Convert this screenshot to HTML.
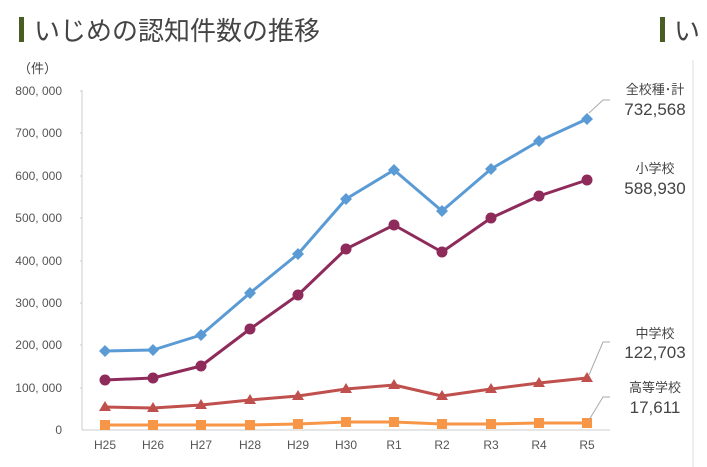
<!DOCTYPE html><html><head><meta charset="utf-8"><style>body{margin:0;background:#fff;width:707px;height:467px;overflow:hidden}svg{display:block}text{font-family:"Liberation Sans","Noto Sans CJK JP",sans-serif}</style></head><body>
<svg width="707" height="467" viewBox="0 0 707 467">
<rect x="19" y="17" width="5" height="25" fill="#4a5e23"/>
<text x="34" y="40" font-size="26" fill="#444">いじめの認知件数の推移</text>
<rect x="660" y="17" width="5" height="25" fill="#4a5e23"/>
<text x="674" y="40" font-size="26" fill="#444">い</text>
<line x1="693" y1="60" x2="693" y2="467" stroke="#ddd"/>
<text x="18" y="73" font-size="13" fill="#444">（件）</text>
<g font-size="12" fill="#555" text-anchor="end">
<text x="62" y="95">800, 000</text><text x="62" y="137">700, 000</text><text x="62" y="180">600, 000</text><text x="62" y="222">500, 000</text><text x="62" y="265">400, 000</text><text x="62" y="307">300, 000</text><text x="62" y="349">200, 000</text><text x="62" y="392">100, 000</text><text x="62" y="434">0</text></g>
<g stroke="#ccc"><line x1="82" y1="90" x2="82" y2="430"/><line x1="82" y1="430" x2="610" y2="430"/>
<line x1="80" y1="91" x2="82" y2="91"/><line x1="80" y1="133" x2="82" y2="133"/><line x1="80" y1="176" x2="82" y2="176"/><line x1="80" y1="218" x2="82" y2="218"/><line x1="80" y1="261" x2="82" y2="261"/><line x1="80" y1="303" x2="82" y2="303"/><line x1="80" y1="345" x2="82" y2="345"/><line x1="80" y1="388" x2="82" y2="388"/></g>
<g font-size="12" fill="#555" text-anchor="middle">
<text x="105" y="449">H25</text><text x="153" y="449">H26</text><text x="201" y="449">H27</text><text x="250" y="449">H28</text><text x="298" y="449">H29</text><text x="346" y="449">H30</text><text x="394" y="449">R1</text><text x="442" y="449">R2</text><text x="491" y="449">R3</text><text x="539" y="449">R4</text><text x="587" y="449">R5</text></g>
<g fill="none" stroke-width="3" stroke-linejoin="round">
<polyline stroke="#5b9bd5" points="105,351 153,350 201,335 250,293 298,254 346,199 394,170 442,211 491,169 539,141 587,119"/>
<polyline stroke="#8e2b5b" points="105,380 153,378 201,366 250,329 298,295 346,249 394,225 442,252 491,218 539,196 587,180"/>
<polyline stroke="#c0504d" points="105,407 153,408 201,405 250,400 298,396 346,389 394,385 442,396 491,389 539,383 587,378"/>
<polyline stroke="#f79646" points="105,425 153,425 201,425 250,425 298,424 346,422 394,422 442,424 491,424 539,423 587,423"/></g>
<g fill="#5b9bd5">
<path d="M105,345l6,6-6,6-6-6z M153,344l6,6-6,6-6-6z M201,329l6,6-6,6-6-6z M250,287l6,6-6,6-6-6z M298,248l6,6-6,6-6-6z M346,193l6,6-6,6-6-6z M394,164l6,6-6,6-6-6z M442,205l6,6-6,6-6-6z M491,163l6,6-6,6-6-6z M539,135l6,6-6,6-6-6z M587,113l6,6-6,6-6-6z"/></g>
<g fill="#8e2b5b"><circle cx="105" cy="380" r="5.5"/><circle cx="153" cy="378" r="5.5"/><circle cx="201" cy="366" r="5.5"/><circle cx="250" cy="329" r="5.5"/><circle cx="298" cy="295" r="5.5"/><circle cx="346" cy="249" r="5.5"/><circle cx="394" cy="225" r="5.5"/><circle cx="442" cy="252" r="5.5"/><circle cx="491" cy="218" r="5.5"/><circle cx="539" cy="196" r="5.5"/><circle cx="587" cy="180" r="5.5"/></g>
<g fill="#c0504d"><path d="M105,401l6,10h-12z M153,402l6,10h-12z M201,399l6,10h-12z M250,394l6,10h-12z M298,390l6,10h-12z M346,383l6,10h-12z M394,379l6,10h-12z M442,390l6,10h-12z M491,383l6,10h-12z M539,377l6,10h-12z M587,372l6,10h-12z"/></g>
<g fill="#f79646"><rect x="100" y="420" width="10" height="10"/><rect x="148" y="420" width="10" height="10"/><rect x="196" y="420" width="10" height="10"/><rect x="245" y="420" width="10" height="10"/><rect x="293" y="419" width="10" height="10"/><rect x="341" y="417" width="10" height="10"/><rect x="389" y="417" width="10" height="10"/><rect x="437" y="419" width="10" height="10"/><rect x="486" y="419" width="10" height="10"/><rect x="534" y="418" width="10" height="10"/><rect x="582" y="418" width="10" height="10"/></g>
<g stroke="#aaa" fill="none"><polyline points="589,113 603,100 610,100"/><polyline points="589,375 603,342 610,342"/><polyline points="589,420 603,397 610,397"/><line x1="589" y1="180" x2="610" y2="180" stroke="none"/></g>
<g fill="#444" text-anchor="middle"><text x="655" y="94" font-size="13">全校種･計</text><text x="655" y="115" font-size="17">732,568</text>
<text x="655" y="173" font-size="13">小学校</text><text x="655" y="194" font-size="17">588,930</text>
<text x="655" y="338" font-size="13">中学校</text><text x="655" y="358" font-size="17">122,703</text>
<text x="655" y="392" font-size="13">高等学校</text><text x="655" y="413" font-size="17">17,611</text></g>
</svg></body></html>
